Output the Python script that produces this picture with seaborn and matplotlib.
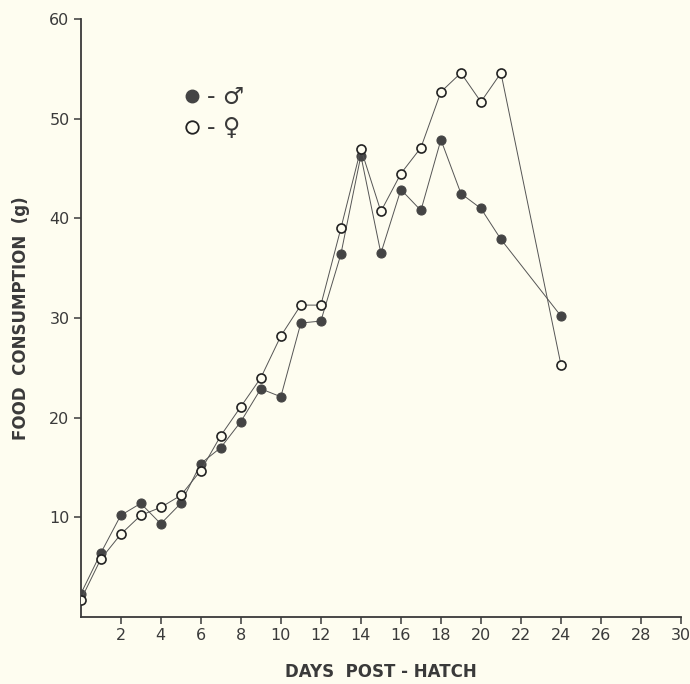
import matplotlib
matplotlib.use("Agg")
import matplotlib.pyplot as plt
import seaborn as sns
import pandas as pd
from matplotlib.lines import Line2D

days = [0, 1, 2, 3, 4, 5, 6, 7, 8, 9, 10, 11, 12, 13, 14, 15, 16, 17, 18, 19, 20, 21, 24]
male = [2.3, 6.4, 10.2, 11.4, 9.35, 11.4, 15.4, 17.0, 19.6, 22.9, 22.1, 29.5, 29.7,
        36.4, 46.3, 36.5, 42.9, 40.8, 47.9, 42.5, 41.0, 37.9, 30.2]
female = [1.7, 5.8, 8.3, 10.2, 11.0, 12.2, 14.7, 18.2, 21.1, 24.0, 28.2, 31.3, 31.3,
          39.0, 47.0, 40.7, 44.5, 47.1, 52.7, 54.6, 51.7, 54.6, 25.3]
x_ticks = list(range(2, 31, 2))
y_ticks = [10, 20, 30, 40, 50, 60]

bg = "#fefdf0"
ink = "#3a3a3a"

sns.set_theme(style="ticks")
plt.rcParams['font.family'] = ['DejaVu Sans']

fig = plt.figure(figsize=(6.9, 6.84), dpi=100, facecolor=bg)
ax = fig.add_axes([0.117, 0.098, 0.870, 0.874])
ax.set_facecolor(bg)

df_m = pd.DataFrame({"day": days, "food": male})
df_f = pd.DataFrame({"day": days, "food": female})

sns.lineplot(data=df_m, x="day", y="food", ax=ax, color="#555555", linewidth=0.7,
             marker="o", markersize=6.5, markerfacecolor="#444444",
             markeredgecolor="#444444", markeredgewidth=0.8, zorder=3)
sns.lineplot(data=df_f, x="day", y="food", ax=ax, color="#555555", linewidth=0.7,
             marker="o", markersize=6.5, markerfacecolor=bg,
             markeredgecolor="#222222", markeredgewidth=1.2, zorder=4)

ax.set_xlim(0, 29.8)
ax.set_ylim(0, 60)
ax.set_xticks(x_ticks)
ax.set_yticks(y_ticks)
ax.tick_params(axis="both", direction="out", length=5, width=1.1, color=ink,
               labelsize=11.5, labelcolor=ink, pad=3)
for s in ["top", "right"]:
    ax.spines[s].set_visible(False)
for s in ["left", "bottom"]:
    ax.spines[s].set_color(ink)
    ax.spines[s].set_linewidth(1.3)

ax.set_xlabel("DAYS  POST - HATCH", fontsize=12, fontweight="bold", color=ink, labelpad=14)
ax.set_ylabel("FOOD  CONSUMPTION  (g)", fontsize=12, fontweight="bold", color=ink, labelpad=14)

handles = [Line2D([], [], linestyle="none", marker="o", markersize=9,
                  markerfacecolor="#444444", markeredgecolor="#444444"),
           Line2D([], [], linestyle="none", marker="o", markersize=9,
                  markerfacecolor=bg, markeredgecolor="#222222", markeredgewidth=1.3)]
leg = ax.legend(handles, ["- \u2642", "- \u2640"], loc="upper left",
                bbox_to_anchor=(0.131, 0.925), frameon=False, fontsize=17,
                handletextpad=0.1, labelspacing=0.3, handlelength=1.0)
for t in leg.get_texts():
    t.set_color(ink)

fig.savefig("out.png", dpi=100, facecolor=bg)
